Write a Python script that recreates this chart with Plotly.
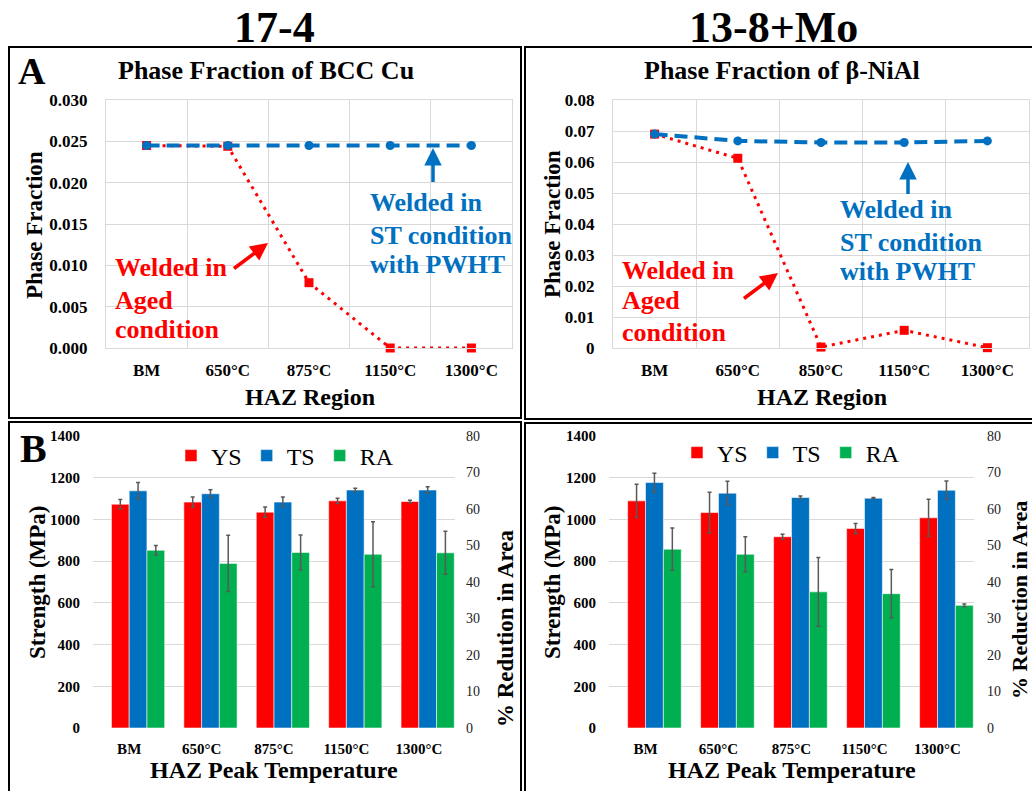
import plotly.graph_objects as go

SERIF = "Liberation Serif, Times New Roman, serif"
W, H = 1032, 791
RED, BLUE, GREEN = "#FF0000", "#0070C0", "#00B050"
GRID = "#D9D9D9"

# ---- data ----
cats_174_pf = ["BM", "650°C", "875°C", "1150°C", "1300°C"]
cats_138_pf = ["BM", "650°C", "850°C", "1150°C", "1300°C"]
cats_tensile = ["BM", "650°C", "875°C", "1150°C", "1300°C"]

# phase fraction of BCC Cu (17-4)
cu_st_pwht = [0.0245, 0.0245, 0.0245, 0.0245, 0.0245]
cu_aged = [0.0245, 0.0244, 0.0079, 0.0, 0.0]
# phase fraction of beta-NiAl (13-8+Mo)
nial_st_pwht = [0.0690, 0.0668, 0.0663, 0.0663, 0.0668]
nial_aged = [0.0690, 0.0612, 0.0003, 0.0057, 0.0001]

# tensile results, 17-4
ys_174 = [1073, 1083, 1035, 1089, 1086]
ys_174_err = [22, 25, 25, 13, 6]
ts_174 = [1137, 1123, 1083, 1141, 1141]
ts_174_err = [40, 19, 24, 8, 16]
ra_174 = [48.7, 45.1, 48.1, 47.6, 48.0]
ra_174_err = [1.3, 7.7, 4.8, 8.9, 5.9]

# tensile results, 13-8+Mo
ys_138 = [1089, 1033, 917, 957, 1008]
ys_138_err = [80, 97, 12, 24, 89]
ts_138 = [1177, 1126, 1105, 1102, 1140]
ts_138_err = [45, 57, 7, 3, 44]
ra_138 = [49.0, 47.6, 37.3, 36.8, 33.6]
ra_138_err = [5.8, 4.8, 9.4, 6.6, 0.4]


def fx(x):
    return x / W


def fy(y):
    return 1 - y / H


fig = go.Figure()

# ---- phase fraction line charts ----
for xa, ya, cats, aged, st in [("x", "y", cats_174_pf, cu_aged, cu_st_pwht),
                               ("x2", "y2", cats_138_pf, nial_aged, nial_st_pwht)]:
    fig.add_trace(go.Scatter(
        x=cats, y=aged, xaxis=xa, yaxis=ya, mode="lines+markers", showlegend=False,
        cliponaxis=False,
        line=dict(color=RED, width=3, dash="3px,5px"),
        marker=dict(symbol="square", size=9, color=RED)))
    fig.add_trace(go.Scatter(
        x=cats, y=st, xaxis=xa, yaxis=ya, mode="lines+markers", showlegend=False,
        cliponaxis=False,
        line=dict(color=BLUE, width=4, dash="13px,7px"),
        marker=dict(symbol="circle", size=9, color=BLUE)))

# ---- tensile bar charts ----
BAR_W = 0.245
ERR = dict(type="data", color="#595959", thickness=1.5, width=2)
for xa, ya_l, ya_r, leg, ys, yse, ts, tse, ra, rae in [
        ("x3", "y3", "y4", "legend", ys_174, ys_174_err, ts_174, ts_174_err, ra_174, ra_174_err),
        ("x4", "y5", "y6", "legend2", ys_138, ys_138_err, ts_138, ts_138_err, ra_138, ra_138_err)]:
    for name, vals, errs, color, off, ya in [("YS", ys, yse, RED, -BAR_W, ya_l),
                                             ("TS", ts, tse, BLUE, 0.0, ya_l),
                                             ("RA", ra, rae, GREEN, BAR_W, ya_r)]:
        fig.add_trace(go.Bar(
            x=cats_tensile, y=vals, name=name, xaxis=xa, yaxis=ya, legend=leg,
            width=BAR_W, offset=off,
            marker=dict(color=color, line=dict(color="rgba(255,255,255,0.55)", width=1)),
            error_y=dict(array=errs, **ERR)))

tick_b17 = dict(family=SERIF, size=17, color="black", weight="bold")
tick_b15 = dict(family=SERIF, size=15, color="black", weight="bold")
tick_r14 = dict(family=SERIF, size=14, color="#222222")


def cat_axis(domain, anchor, font, standoff, grid):
    d = dict(domain=domain, anchor=anchor, type="category", range=[-0.5, 4.5],
             tickfont=font, ticks="", ticklabelstandoff=standoff, fixedrange=True,
             automargin=False,
             showgrid=grid, gridcolor=GRID, gridwidth=1, zeroline=False)
    if grid:
        d.update(tickson="boundaries", showline=True, linecolor=GRID, linewidth=1, mirror=True)
    else:
        d.update(showline=False)
    return d


def val_axis(domain, anchor, rng, dtick, font, standoff, fmt=None, **kw):
    d = dict(domain=domain, anchor=anchor, range=rng, dtick=dtick, tick0=0,
             tickfont=font, ticks="", ticklabelstandoff=standoff, fixedrange=True,
             automargin=False,
             showgrid=True, gridcolor=GRID, gridwidth=1, zeroline=False, showline=False)
    if fmt:
        d["tickformat"] = fmt
    d.update(kw)
    return d


top_y = [fy(348), fy(100)]
bot_y = [fy(728), fy(436)]

fig.update_layout(
    width=W, height=H, margin=dict(l=0, r=0, t=0, b=0, pad=0, autoexpand=False),
    paper_bgcolor="white", plot_bgcolor="white",
    barmode="overlay",
    xaxis=cat_axis([fx(106), fx(512)], "y", tick_b17, 7, True),
    yaxis=val_axis(top_y, "x", [0, 0.030], 0.005, tick_b17, 14, ".3f",
                   showline=True, linecolor=GRID, mirror=True),
    xaxis2=cat_axis([fx(613), fx(1029)], "y2", tick_b17, 7, True),
    yaxis2=val_axis(top_y, "x2", [0, 0.08], 0.01, tick_b17, 14,
                    showline=True, linecolor=GRID, mirror=True),
    xaxis3=cat_axis([fx(93), fx(455)], "y3", tick_b15, 10, False),
    yaxis3=val_axis(bot_y, "x3", [0, 1400], 200, tick_b15, 12),
    yaxis4=dict(overlaying="y3", side="right", anchor="x3", range=[0, 80], dtick=10,
                tick0=0, tickfont=tick_r14, ticks="", ticklabelstandoff=10, automargin=False,
                showgrid=False, zeroline=False, showline=False, fixedrange=True),
    xaxis4=cat_axis([fx(609), fx(974)], "y5", tick_b15, 10, False),
    yaxis5=val_axis(bot_y, "x4", [0, 1400], 200, tick_b15, 12),
    yaxis6=dict(overlaying="y5", side="right", anchor="x4", range=[0, 80], dtick=10,
                tick0=0, tickfont=tick_r14, ticks="", ticklabelstandoff=12, automargin=False,
                showgrid=False, zeroline=False, showline=False, fixedrange=True),
    legend=dict(orientation="h", x=fx(285), y=fy(456), xanchor="center", yanchor="middle",
                font=dict(family=SERIF, size=24, color="black"), bgcolor="rgba(0,0,0,0)",
                itemclick=False, itemdoubleclick=False),
    legend2=dict(orientation="h", x=fx(791), y=fy(453), xanchor="center", yanchor="middle",
                 font=dict(family=SERIF, size=24, color="black"), bgcolor="rgba(0,0,0,0)",
                 itemclick=False, itemdoubleclick=False),
)

# ---- panel frames ----
frames = [(9, 47, 521, 418), (525, 47, 1040, 419), (9, 422, 521, 800), (525, 423, 1040, 800)]
for x0, y0, x1, y1 in frames:
    fig.add_shape(type="rect", xref="paper", yref="paper",
                  x0=fx(x0), x1=fx(x1), y0=fy(y1), y1=fy(y0),
                  line=dict(color="black", width=2), fillcolor="rgba(0,0,0,0)")


def label(text, x, y, size, bold=True, color="black", angle=0, xanchor="center"):
    fig.add_annotation(text=text, x=fx(x), y=fy(y), xref="paper", yref="paper",
                       showarrow=False, textangle=angle, xanchor=xanchor, yanchor="middle",
                       font=dict(family=SERIF, size=size, color=color,
                                 weight="bold" if bold else "normal"))


def callout(lines, x, ys, color):
    for text, y in zip(lines, ys):
        label(text, x, y, 26, color=color, xanchor="left")


def arrow(x, y, ax, ay, color):
    fig.add_annotation(text=" ", x=fx(x), y=fy(y), xref="paper", yref="paper",
                       ax=ax, ay=ay, showarrow=True, arrowhead=2, arrowsize=1,
                       arrowwidth=3.5, arrowcolor=color, standoff=0, startstandoff=0,
                       font=dict(size=2))


# alloy headers
label("17-4", 274, 27, 44)
label("13-8+Mo", 773, 27, 44)
# panel letters
label("A", 32, 71, 38)
label("B", 33, 448, 40)

# phase fraction titles
label("Phase Fraction of BCC Cu", 266, 71, 26)
label("Phase Fraction of β-NiAl", 782, 71, 26)
label("Phase Fraction", 35, 225, 23, angle=-90)
label("Phase Fraction", 552, 224, 23, angle=-90)
label("HAZ Region", 310, 397, 24)
label("HAZ Region", 822, 397, 24)

# callouts
st_lines = ["Welded in", "ST condition", "with PWHT"]
aged_lines = ["Welded in", "Aged", "condition"]
callout(st_lines, 368, [203, 235, 265], BLUE)
callout(aged_lines, 113, [268, 300, 330], RED)
callout(st_lines, 838, [210, 242, 272], BLUE)
callout(aged_lines, 620, [270, 301, 332], RED)
arrow(433, 148, 0, 37, BLUE)
arrow(268, 243, -36, 27, RED)
arrow(908, 162, 0, 35, BLUE)
arrow(778, 273, -36, 27, RED)

# tensile axis titles
label("Strength (MPa)", 37, 582, 23, angle=-90)
label("Strength (MPa)", 552, 582, 23, angle=-90)
label("% Redution in Area", 505, 628, 23, angle=-90)
label("% Reduction in Area", 1019, 600, 22, angle=-90)
label("HAZ Peak Temperature", 274, 770, 24)
label("HAZ Peak Temperature", 792, 770, 24)

fig.write_html("out.html")
